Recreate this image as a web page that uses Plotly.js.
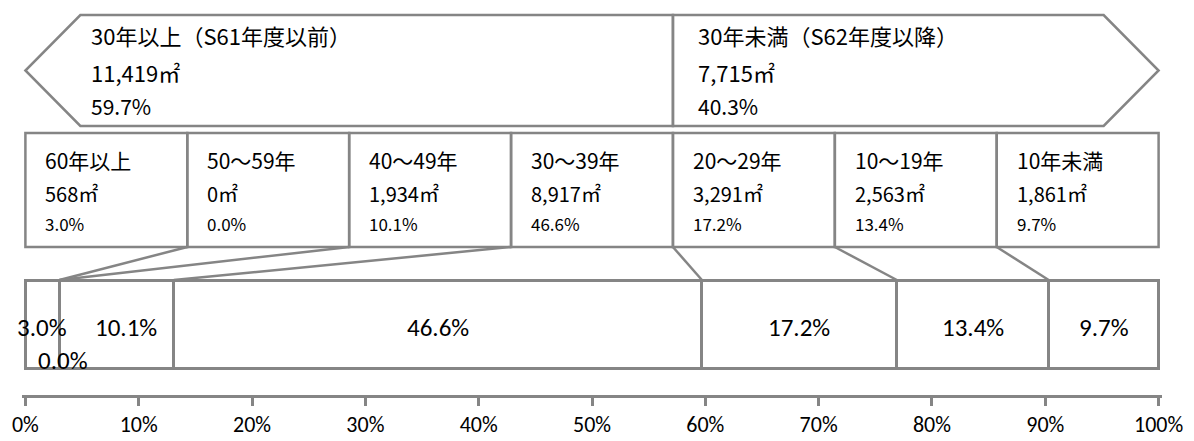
<!DOCTYPE html>
<html>
<head>
<meta charset="utf-8">
<script src="https://cdn.plot.ly/plotly-3.0.1.min.js"></script>
<style>html,body{margin:0;padding:0;background:#fff;}#chart{width:1194px;height:441px;}</style>
</head>
<body>
<div id="chart"></div>
<script>
// ---- data ----
const categories = ['60年以上', '50～59年', '40～49年', '30～39年', '20～29年', '10～19年', '10年未満'];
const areas = [568, 0, 1934, 8917, 3291, 2563, 1861];
const shares = [3.0, 0.0, 10.1, 46.6, 17.2, 13.4, 9.7];
const groupNames = ['30年以上（S61年度以前）', '30年未満（S62年度以降）'];
const groupAreas = [11419, 7715];
const groupShares = [59.7, 40.3];
const tickValues = [0, 10, 20, 30, 40, 50, 60, 70, 80, 90, 100];
const tickLabels = ['0%', '10%', '20%', '30%', '40%', '50%', '60%', '70%', '80%', '90%', '100%'];

// ---- styling ----
const GRAY = '#858585';
const JP = '"Noto Sans CJK JP", "Noto Sans", sans-serif';
const LAT = 'Carlito, Lato, "Open Sans", sans-serif';
const BAR_Y = 324, BAR_H = 88;
const BOX_TOP = 133, BOX_BOT = 247;
const ARR_TOP = 15, ARR_BOT = 126, ARR_MID = 70.5, ARR_INSET = 4.85;

const fmt = n => n.toLocaleString('en-US');
const nBox = categories.length;
const boxW = 100 / nBox;

// cumulative bar boundaries
const cum = [];
let acc = 0;
shares.forEach(s => { acc = +(acc + s).toFixed(4); cum.push(acc); });

const traces = categories.map((c, i) => ({
  type: 'bar', orientation: 'h',
  y: [BAR_Y], x: [shares[i]], width: BAR_H,
  name: c,
  marker: {color: '#ffffff', line: {color: GRAY, width: 3}},
  hoverinfo: 'skip', textposition: 'none'
}));

const shapes = [];
const annotations = [];

// arrow banner
const split = boxW * 4;
shapes.push({type: 'path', xref: 'x', yref: 'y', layer: 'above',
  path: `M ${ARR_INSET},${ARR_TOP} L ${split},${ARR_TOP} L ${split},${ARR_BOT} L ${ARR_INSET},${ARR_BOT} L 0,${ARR_MID} Z`,
  line: {color: GRAY, width: 2.5}, fillcolor: 'rgba(0,0,0,0)'});
shapes.push({type: 'path', xref: 'x', yref: 'y', layer: 'above',
  path: `M ${split},${ARR_TOP} L ${100 - ARR_INSET},${ARR_TOP} L 100,${ARR_MID} L ${100 - ARR_INSET},${ARR_BOT} L ${split},${ARR_BOT} Z`,
  line: {color: GRAY, width: 2.5}, fillcolor: 'rgba(0,0,0,0)'});

const groupX = [0, split];
const groupShift = [64, 23];
groupNames.forEach((g, i) => {
  const lines = [g, fmt(groupAreas[i]) + '㎡', groupShares[i].toFixed(1) + '%'];
  const ys = [35, 72, 106];
  const sz = [22, 22, 21];
  lines.forEach((t, j) => annotations.push({
    xref: 'x', yref: 'y', x: groupX[i], y: ys[j], xanchor: 'left', yanchor: 'middle',
    xshift: groupShift[i], text: t, showarrow: false,
    font: {family: JP, size: sz[j], color: '#000'}
  }));
});

// category boxes
categories.forEach((c, i) => {
  shapes.push({type: 'rect', xref: 'x', yref: 'y', layer: 'above',
    x0: i * boxW, x1: (i + 1) * boxW, y0: BOX_TOP, y1: BOX_BOT,
    line: {color: GRAY, width: 2.5}, fillcolor: 'rgba(0,0,0,0)'});
  const lines = [c, fmt(areas[i]) + '㎡', shares[i].toFixed(1) + '%'];
  const ys = [160, 193, 223];
  const sz = [21, 20, 17];
  lines.forEach((t, j) => annotations.push({
    xref: 'x', yref: 'y', x: i * boxW, y: ys[j], xanchor: 'left', yanchor: 'middle',
    xshift: 18, text: t, showarrow: false,
    font: {family: JP, size: sz[j], color: '#000'}
  }));
});

// connector lines
for (let k = 1; k < nBox; k++) {
  shapes.push({type: 'line', xref: 'x', yref: 'y', layer: 'above',
    x0: k * boxW, y0: BOX_BOT, x1: cum[k - 1], y1: BAR_Y - BAR_H / 2,
    line: {color: GRAY, width: 2.5}});
}

// bar labels
const labelShift = [[0, 0], [4, 33], [9, 0], [0, 0], [0, 0], [0, 0], [0, 0]];
shares.forEach((s, i) => {
  const start = i === 0 ? 0 : cum[i - 1];
  annotations.push({
    xref: 'x', yref: 'y', x: start + s / 2, y: BAR_Y + 3 + labelShift[i][1],
    xshift: labelShift[i][0], text: s.toFixed(1) + '%', showarrow: false,
    xanchor: 'center', yanchor: 'middle',
    font: {family: LAT, size: 25, color: '#000'}
  });
});

const layout = {
  width: 1194, height: 441,
  margin: {l: 22, r: 32, t: 0, b: 46, pad: 0},
  paper_bgcolor: '#ffffff', plot_bgcolor: '#ffffff',
  barmode: 'stack', showlegend: false, bargap: 0,
  xaxis: {
    range: [-0.3, 100.3], tickvals: tickValues, ticktext: tickLabels,
    showgrid: false, zeroline: false, showline: true, linecolor: GRAY, linewidth: 3,
    ticks: 'outside', ticklen: 8, tickwidth: 3, tickcolor: GRAY,
    ticklabelstandoff: 0,
    tickfont: {family: LAT, size: 22, color: '#000'}, fixedrange: true
  },
  yaxis: {range: [395, 0], visible: false, fixedrange: true},
  shapes: shapes, annotations: annotations
};

Plotly.newPlot('chart', traces, layout, {staticPlot: true, displayModeBar: false});
</script>
</body>
</html>
